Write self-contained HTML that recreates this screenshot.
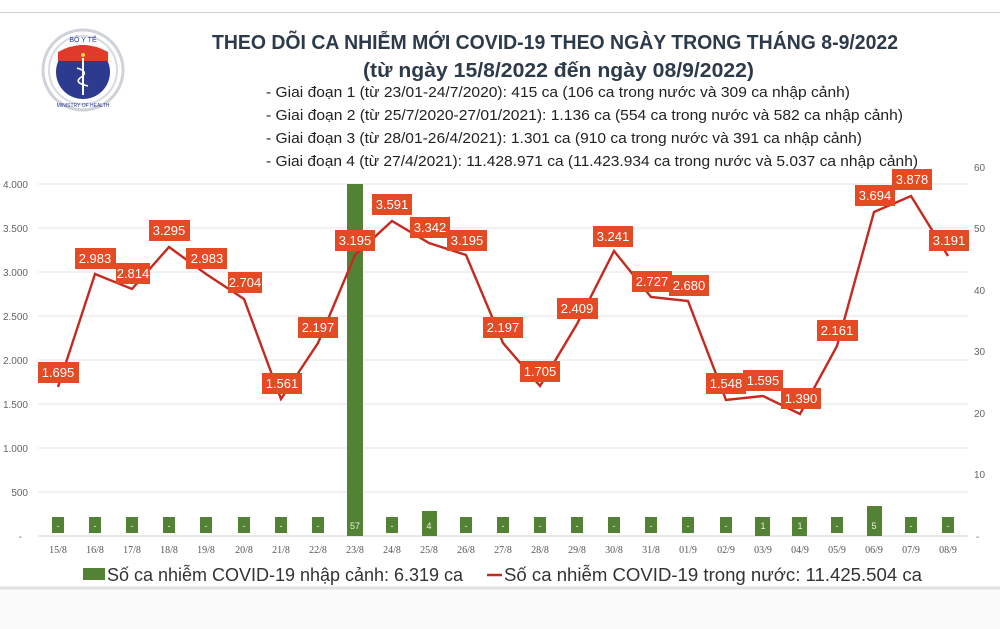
<!DOCTYPE html>
<html><head><meta charset="utf-8"><style>
html,body{margin:0;padding:0;background:#fff;}
svg{display:block;font-family:"Liberation Sans",sans-serif;}
</style></head><body>
<svg width="1000" height="629" viewBox="0 0 1000 629" xmlns="http://www.w3.org/2000/svg">
<rect width="1000" height="629" fill="#fff"/>
<rect x="0" y="589" width="1000" height="40" fill="#fbfbfb"/>
<line x1="0" y1="12.5" x2="1000" y2="12.5" stroke="#cfcfcf"/>
<line x1="0" y1="588" x2="1000" y2="588" stroke="#e2e2e2" stroke-width="3"/>

<!-- logo -->
<g>
<circle cx="83" cy="70" r="40" fill="none" stroke="#cfd2d8" stroke-width="3"/>
<circle cx="83" cy="70" r="34" fill="#fff" stroke="#d8dae0" stroke-width="2"/>
<circle cx="83" cy="72" r="27" fill="#2c3b8e"/>
<path d="M58,52 Q83,38 108,52 L108,61 L58,61 Z" fill="#e03a2c"/>
<circle cx="83" cy="55" r="2" fill="#ffd23a"/>
<line x1="83" y1="58" x2="83" y2="95" stroke="#fff" stroke-width="2"/>
<path d="M77,68 Q90,72 80,78 Q74,83 88,86" stroke="#fff" stroke-width="1.6" fill="none"/>
<text x="83" y="42" font-size="7" text-anchor="middle" fill="#2c3b8e">BỘ Y TẾ</text>
<text x="83" y="107" font-size="5" text-anchor="middle" fill="#2c3b8e">MINISTRY OF HEALTH</text>
</g>

<!-- header -->
<g fill="#2d3a4a">
<text x="212" y="49" font-size="20" font-weight="bold" textLength="686" lengthAdjust="spacingAndGlyphs">THEO DÕI CA NHIỄM MỚI COVID-19 THEO NGÀY TRONG THÁNG 8-9/2022</text>
<text x="363" y="77" font-size="20" font-weight="bold" textLength="391" lengthAdjust="spacingAndGlyphs">(từ ngày 15/8/2022 đến ngày 08/9/2022)</text>
</g>
<g fill="#222" font-size="15">
<text x="266" y="97" textLength="584" lengthAdjust="spacingAndGlyphs">- Giai đoạn 1 (từ 23/01-24/7/2020): 415 ca (106 ca trong nước và 309 ca nhập cảnh)</text>
<text x="266" y="120" textLength="637" lengthAdjust="spacingAndGlyphs">- Giai đoạn 2 (từ 25/7/2020-27/01/2021): 1.136 ca (554 ca trong nước và 582 ca nhập cảnh)</text>
<text x="266" y="143" textLength="596" lengthAdjust="spacingAndGlyphs">- Giai đoạn 3 (từ 28/01-26/4/2021): 1.301 ca (910 ca trong nước và 391 ca nhập cảnh)</text>
<text x="266" y="166" textLength="652" lengthAdjust="spacingAndGlyphs">- Giai đoạn 4 (từ 27/4/2021): 11.428.971 ca (11.423.934 ca trong nước và 5.037 ca nhập cảnh)</text>
</g>

<!-- grid -->
<g stroke="#e3e3e3" stroke-width="1">
<line x1="38" y1="184" x2="968" y2="184"/>
<line x1="38" y1="228" x2="968" y2="228"/>
<line x1="38" y1="272" x2="968" y2="272"/>
<line x1="38" y1="316" x2="968" y2="316"/>
<line x1="38" y1="360" x2="968" y2="360"/>
<line x1="38" y1="404" x2="968" y2="404"/>
<line x1="38" y1="448" x2="968" y2="448"/>
<line x1="38" y1="492" x2="968" y2="492"/>
<line x1="38" y1="536" x2="968" y2="536" stroke="#d0d0d0"/>
</g>
<g font-size="10" fill="#666" text-anchor="end">
<text x="28" y="188">4.000</text><text x="28" y="232">3.500</text><text x="28" y="276">3.000</text>
<text x="28" y="320">2.500</text><text x="28" y="364">2.000</text><text x="28" y="408">1.500</text>
<text x="28" y="452">1.000</text><text x="28" y="496">500</text><text x="22" y="540">-</text>
</g>
<g font-size="10" fill="#666">
<text x="974" y="171">60</text><text x="974" y="232">50</text><text x="974" y="294">40</text>
<text x="974" y="355">30</text><text x="974" y="417">20</text><text x="974" y="478">10</text><text x="976" y="540">-</text>
</g>

<!-- bars -->
<g fill="#548235">
<rect x="52" y="517" width="12" height="16"/><rect x="89" y="517" width="12" height="16"/>
<rect x="126" y="517" width="12" height="16"/><rect x="163" y="517" width="12" height="16"/>
<rect x="200" y="517" width="12" height="16"/><rect x="238" y="517" width="12" height="16"/>
<rect x="275" y="517" width="12" height="16"/><rect x="312" y="517" width="12" height="16"/>
<rect x="347" y="184" width="16" height="352"/>
<rect x="386" y="517" width="12" height="16"/>
<rect x="422" y="511" width="15" height="25"/>
<rect x="460" y="517" width="12" height="16"/><rect x="497" y="517" width="12" height="16"/>
<rect x="534" y="517" width="12" height="16"/><rect x="571" y="517" width="12" height="16"/>
<rect x="608" y="517" width="12" height="16"/><rect x="645" y="517" width="12" height="16"/>
<rect x="682" y="517" width="12" height="16"/><rect x="720" y="517" width="12" height="16"/>
<rect x="755" y="517" width="15" height="19"/><rect x="792" y="517" width="15" height="19"/>
<rect x="831" y="517" width="12" height="16"/>
<rect x="867" y="506" width="15" height="30"/>
<rect x="905" y="517" width="12" height="16"/><rect x="942" y="517" width="12" height="16"/>
</g>
<g font-size="9" fill="#e8f0e0" text-anchor="middle">
<text x="58" y="529">-</text><text x="95" y="529">-</text><text x="132" y="529">-</text><text x="169" y="529">-</text>
<text x="206" y="529">-</text><text x="244" y="529">-</text><text x="281" y="529">-</text><text x="318" y="529">-</text>
<text x="355" y="529">57</text><text x="392" y="529">-</text><text x="429" y="529">4</text><text x="466" y="529">-</text>
<text x="503" y="529">-</text><text x="540" y="529">-</text><text x="577" y="529">-</text><text x="614" y="529">-</text>
<text x="651" y="529">-</text><text x="688" y="529">-</text><text x="726" y="529">-</text><text x="763" y="529">1</text>
<text x="800" y="529">1</text><text x="837" y="529">-</text><text x="874" y="529">5</text><text x="911" y="529">-</text><text x="948" y="529">-</text>
</g>

<!-- line -->
<polyline fill="none" stroke="#c52a20" stroke-width="2.4" stroke-linejoin="miter"
points="58,387 95,274 132,289 169,247 206,274 244,299 281,399 318,343 355,255 392,221 429,243 466,255 503,343 540,386 577,324 614,251 651,297 688,301 726,400 763,396 800,414 837,346 874,212 911,196 948,256"/>

<!-- data labels -->
<g fill="#e44a24">
<rect x="38" y="362" width="41" height="21"/><rect x="75" y="248" width="41" height="21"/>
<rect x="116" y="263" width="34" height="21"/><rect x="149" y="220" width="41" height="21"/>
<rect x="186" y="248" width="41" height="21"/><rect x="228" y="272" width="34" height="21"/>
<rect x="262" y="373" width="40" height="21"/><rect x="298" y="317" width="40" height="21"/>
<rect x="335" y="230" width="40" height="21"/><rect x="372" y="194" width="40" height="21"/>
<rect x="410" y="217" width="40" height="21"/><rect x="447" y="230" width="40" height="21"/>
<rect x="483" y="317" width="40" height="21"/><rect x="520" y="361" width="40" height="21"/>
<rect x="557" y="298" width="41" height="21"/><rect x="593" y="226" width="40" height="21"/>
<rect x="632" y="271" width="40" height="21"/><rect x="669" y="275" width="40" height="21"/>
<rect x="706" y="373" width="40" height="21"/><rect x="743" y="370" width="40" height="21"/>
<rect x="781" y="388" width="40" height="21"/><rect x="817" y="320" width="41" height="21"/>
<rect x="855" y="185" width="40" height="21"/><rect x="892" y="169" width="40" height="21"/>
<rect x="929" y="230" width="40" height="21"/>
</g>
<g font-size="13" fill="#fff" text-anchor="middle">
<text x="58" y="377">1.695</text><text x="95" y="263">2.983</text><text x="133" y="278">2.814</text>
<text x="169" y="235">3.295</text><text x="207" y="263">2.983</text><text x="245" y="287">2.704</text>
<text x="282" y="388">1.561</text><text x="318" y="332">2.197</text><text x="355" y="245">3.195</text>
<text x="392" y="209">3.591</text><text x="430" y="232">3.342</text><text x="467" y="245">3.195</text>
<text x="503" y="332">2.197</text><text x="540" y="376">1.705</text><text x="577" y="313">2.409</text>
<text x="613" y="241">3.241</text><text x="652" y="286">2.727</text><text x="689" y="290">2.680</text>
<text x="726" y="388">1.548</text><text x="763" y="385">1.595</text><text x="801" y="403">1.390</text>
<text x="837" y="335">2.161</text><text x="875" y="200">3.694</text><text x="912" y="184">3.878</text>
<text x="949" y="245">3.191</text>
</g>

<!-- x labels -->
<g font-size="10" fill="#555" text-anchor="middle" font-family="Liberation Serif, serif">
<text x="58" y="553">15/8</text><text x="95" y="553">16/8</text><text x="132" y="553">17/8</text><text x="169" y="553">18/8</text>
<text x="206" y="553">19/8</text><text x="244" y="553">20/8</text><text x="281" y="553">21/8</text><text x="318" y="553">22/8</text>
<text x="355" y="553">23/8</text><text x="392" y="553">24/8</text><text x="429" y="553">25/8</text><text x="466" y="553">26/8</text>
<text x="503" y="553">27/8</text><text x="540" y="553">28/8</text><text x="577" y="553">29/8</text><text x="614" y="553">30/8</text>
<text x="651" y="553">31/8</text><text x="688" y="553">01/9</text><text x="726" y="553">02/9</text><text x="763" y="553">03/9</text>
<text x="800" y="553">04/9</text><text x="837" y="553">05/9</text><text x="874" y="553">06/9</text><text x="911" y="553">07/9</text>
<text x="948" y="553">08/9</text>
</g>

<!-- legend -->
<rect x="83" y="568" width="22" height="12" fill="#548235"/>
<text x="107" y="581" font-size="18" fill="#333" textLength="356" lengthAdjust="spacingAndGlyphs">Số ca nhiễm COVID-19 nhập cảnh: 6.319 ca</text>
<line x1="487" y1="575" x2="502" y2="575" stroke="#c52a20" stroke-width="2.5"/>
<text x="504" y="581" font-size="18" fill="#333" textLength="418" lengthAdjust="spacingAndGlyphs">Số ca nhiễm COVID-19 trong nước: 11.425.504 ca</text>
</svg>
</body></html>
